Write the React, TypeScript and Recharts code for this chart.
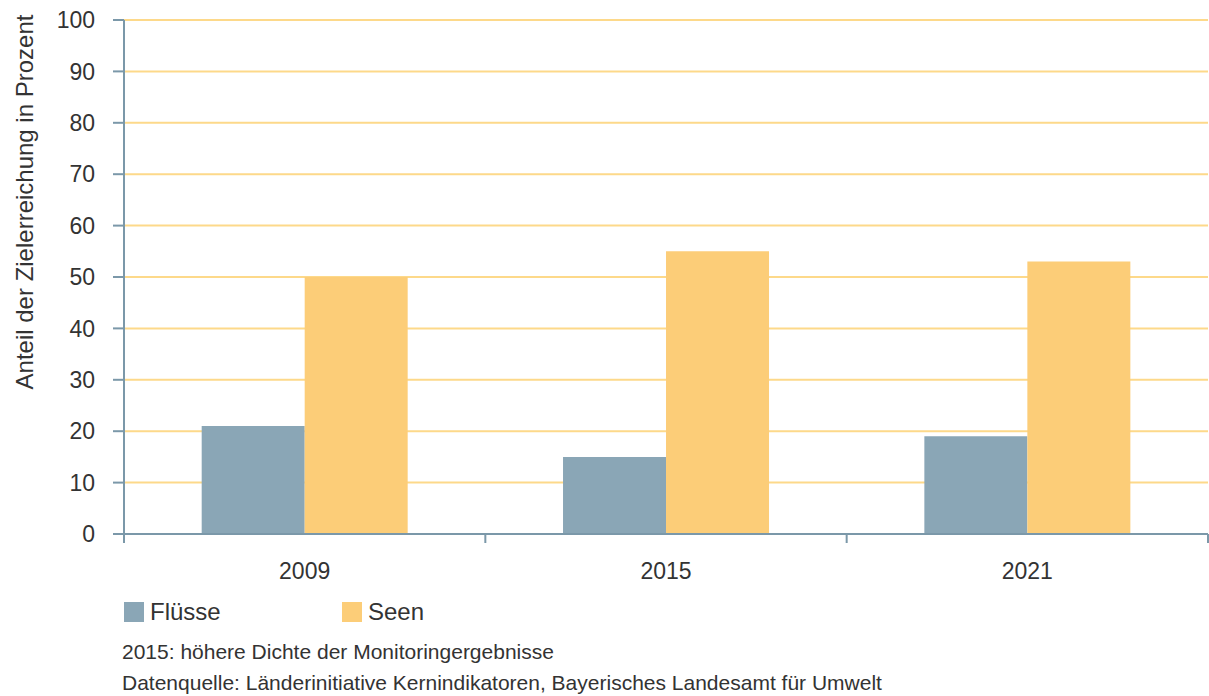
import React from 'react';
import { BarChart, Bar, XAxis, YAxis, CartesianGrid } from 'recharts';

const years = ['2009', '2015', '2021'];
const fluesse = [21, 15, 19];
const seen = [50, 55, 53];
const yTicks = [0, 10, 20, 30, 40, 50, 60, 70, 80, 90, 100];

const data = years.map((year, i) => ({ year, fluesse: fluesse[i], seen: seen[i] }));

const W = 1209;
const H = 696;
const MARGIN = { top: 20, right: 1, bottom: 112, left: 64 };
const Y_AXIS_W = 60;
const PLOT_W = W - MARGIN.left - MARGIN.right - Y_AXIS_W;
const HALF_BAND = PLOT_W / years.length / 2;

const FONT = '"Liberation Sans", Arial, sans-serif';
const AXIS = '#7b98a9';
const TEXT = '#333333';

const SERIES = [
  { key: 'fluesse', name: 'Flüsse', color: '#8aa6b6' },
  { key: 'seen', name: 'Seen', color: '#fccd78' },
];

const XTick = (props: any) => {
  const { x, y, payload, index } = props;
  return (
    <g>
      {index === 0 && <line x1={x - HALF_BAND} y1={y} x2={x - HALF_BAND} y2={y + 9} stroke={AXIS} strokeWidth={2} />}
      <line x1={x + HALF_BAND} y1={y} x2={x + HALF_BAND} y2={y + 9} stroke={AXIS} strokeWidth={2} />
      <text x={x} y={y + 37} textAnchor="middle" dominantBaseline="central" fill={TEXT} fontSize={23} fontFamily={FONT}>
        {payload.value}
      </text>
    </g>
  );
};

export default function App() {
  return (
    <div style={{ position: 'absolute', left: 0, top: 0, width: W, height: H, background: '#fff', fontFamily: FONT }}>
      <BarChart width={W} height={H} data={data} margin={MARGIN} barCategoryGap="21.5%" barGap={0}>
        <CartesianGrid horizontal vertical={false} stroke="#fdd98a" strokeWidth={2} />
        <XAxis
          dataKey="year"
          tick={<XTick />}
          tickLine={false}
          tickSize={0}
          tickMargin={0}
          height={50}
          axisLine={{ stroke: AXIS, strokeWidth: 2 }}
          interval={0}
        />
        <YAxis
          width={Y_AXIS_W}
          domain={[0, 100]}
          ticks={yTicks}
          interval={0}
          tickSize={11}
          tickMargin={18}
          axisLine={{ stroke: AXIS, strokeWidth: 2 }}
          tickLine={{ stroke: AXIS, strokeWidth: 2 }}
          tick={{ fill: TEXT, fontSize: 23, fontFamily: FONT }}
        />
        {SERIES.map((s) => (
          <Bar key={s.key} dataKey={s.key} name={s.name} fill={s.color} isAnimationActive={false} />
        ))}
      </BarChart>

      {/* legend */}
      <div style={{ position: 'absolute', left: 124, top: 601, display: 'flex' }}>
        {SERIES.map((s) => (
          <div key={s.key} style={{ display: 'flex', alignItems: 'center', width: 218, height: 22 }}>
            <div style={{ width: 20, height: 20, background: s.color, marginRight: 6 }} />
            <span style={{ fontSize: 24, color: TEXT, lineHeight: '22px' }}>{s.name}</span>
          </div>
        ))}
      </div>

      <div
        style={{
          position: 'absolute',
          left: 25,
          top: 202,
          transform: 'translate(-50%, -50%) rotate(-90deg)',
          whiteSpace: 'nowrap',
          fontSize: 24,
          lineHeight: '24px',
          color: TEXT,
        }}
      >
        Anteil der Zielerreichung in Prozent
      </div>
      <div style={{ position: 'absolute', left: 122, top: 641, fontSize: 21, lineHeight: '21px', color: TEXT, whiteSpace: 'nowrap' }}>
        2015: höhere Dichte der Monitoringergebnisse
      </div>
      <div style={{ position: 'absolute', left: 122, top: 672, fontSize: 21, lineHeight: '21px', color: TEXT, whiteSpace: 'nowrap' }}>
        Datenquelle: Länderinitiative Kernindikatoren, Bayerisches Landesamt für Umwelt
      </div>
    </div>
  );
}
